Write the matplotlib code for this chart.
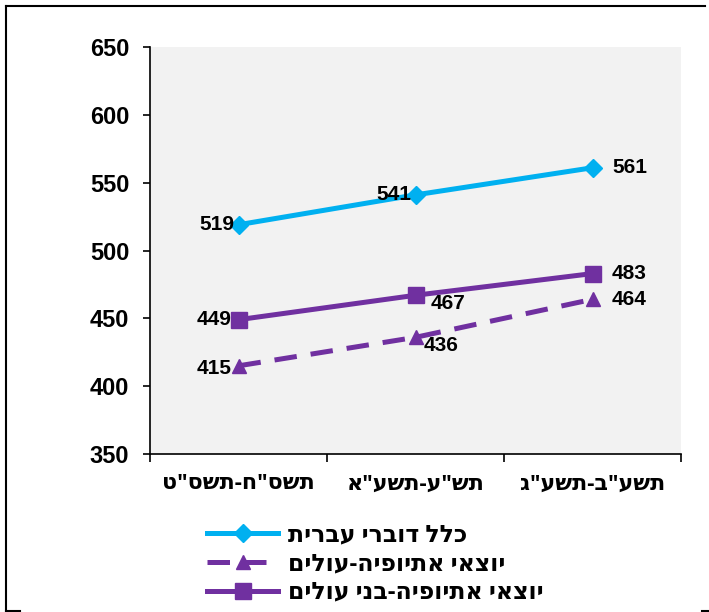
import matplotlib.pyplot as plt
from matplotlib.lines import Line2D

plt.rcParams['font.family'] = ['Liberation Sans', 'DejaVu Sans']
plt.rcParams['font.weight'] = 'bold'

# Hebrew strings in logical order; matplotlib draws left to right, so reverse them
def heb(s):
    return s[::-1]

categories = ['תשס"ח-תשס"ט', 'תש"ע-תשע"א', 'תשע"ב-תשע"ג']
hebrew_speakers = [519, 541, 561]
ethiopia_immigrants = [415, 436, 464]
ethiopia_second_gen = [449, 467, 483]
series_names = ['כלל דוברי עברית', 'יוצאי אתיופיה-עולים', 'יוצאי אתיופיה-בני עולים']
y_ticks = [350, 400, 450, 500, 550, 600, 650]

blue = '#00B0F0'
purple = '#7030A0'
heb_font = ['Open Sans', 'DejaVu Sans']

fig = plt.figure(figsize=(7.09, 6.12), dpi=100)
ax = fig.add_axes([150 / 709, 1 - 454 / 612, 531 / 709, 407 / 612])
ax.set_facecolor('#f2f2f2')

x = range(len(categories))
l1, = ax.plot(x, hebrew_speakers, color=blue, lw=3.6, marker='D', ms=9.5)
l2, = ax.plot(x, ethiopia_immigrants, color=purple, lw=3.6, marker='^', ms=10.5,
              dashes=(4.5, 2.8))
l3, = ax.plot(x, ethiopia_second_gen, color=purple, lw=3.6, marker='s', ms=11)

# data labels: (dx, dy) offsets in points, and alignment
lab_style = dict(textcoords='offset points', fontsize=15, fontweight='bold', va='center')
offs1 = [(-3, 0, 'right'), (-3, 0, 'right'), (14, 0, 'left')]
offs2 = [(-5, -2, 'right'), (6, -6, 'left'), (14, 0, 'left')]
offs3 = [(-5, 0, 'right'), (11, -6, 'left'), (14, 0, 'left')]
for vals, offs in [(hebrew_speakers, offs1), (ethiopia_immigrants, offs2),
                   (ethiopia_second_gen, offs3)]:
    for i, v in enumerate(vals):
        dx, dy, ha = offs[i]
        ax.annotate(str(v), (i, v), xytext=(dx, dy), ha=ha, **lab_style)

ax.set_xlim(-0.5, 2.5)
ax.set_ylim(350, 650)
ax.set_yticks(y_ticks)
ax.set_yticklabels([str(t) for t in y_ticks], fontsize=17, fontweight='bold')
ax.set_xticks([-0.5, 0.5, 1.5, 2.5])
ax.set_xticklabels([])
ax.set_xticks(list(x), minor=True)
ax.set_xticklabels([heb(c) for c in categories], minor=True, fontsize=16,
                   fontweight='bold', family=heb_font)
ax.tick_params(axis='x', which='minor', length=0, pad=14)
ax.tick_params(axis='x', which='major', length=6, width=1.2, direction='out')
ax.tick_params(axis='y', length=5, width=1.2, pad=10)
for s in ['top', 'right']:
    ax.spines[s].set_visible(False)
for s in ['left', 'bottom']:
    ax.spines[s].set_linewidth(1.2)

fig.legend([l1, l2, l3], [heb(n) for n in series_names], loc='upper left',
           bbox_to_anchor=(198 / 709, 1 - 514 / 612), frameon=False,
           prop={'family': heb_font, 'weight': 'bold', 'size': 17},
           handlelength=3.0, handletextpad=0.4, labelspacing=0.2, borderaxespad=0)

# outer frame pieces
fr = dict(color='black', transform=fig.transFigure, lw=1.5)
fig.add_artist(Line2D([6 / 709, 6 / 709], [1 - 6 / 612, 1 - 611 / 612], **fr))
fig.add_artist(Line2D([6 / 709, 705 / 709], [1 - 6 / 612, 1 - 6 / 612], **fr))
fig.add_artist(Line2D([6 / 709, 20 / 709], [1 - 611 / 612, 1 - 611 / 612], **fr))
fig.add_artist(Line2D([702 / 709, 709 / 709], [1 - 611 / 612, 1 - 611 / 612], **fr))

fig.savefig('out.png', dpi=100)
